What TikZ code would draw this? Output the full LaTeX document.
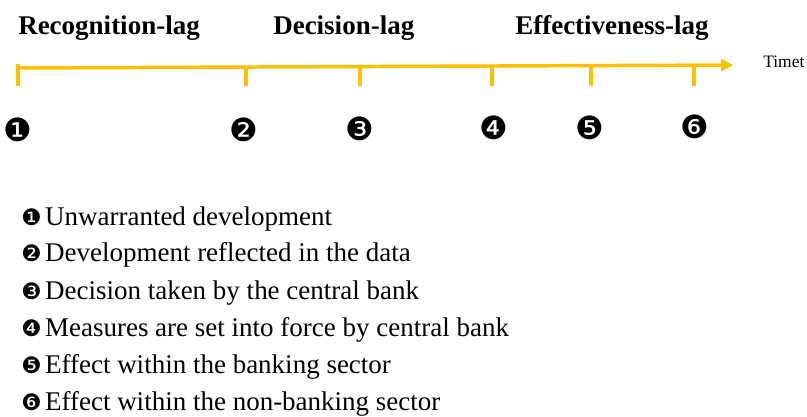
\documentclass[tikz,border=0pt]{standalone}
\usepackage{fontspec}
\setmainfont{Liberation Serif}
\newfontfamily\dingfont{DejaVu Sans}
\usetikzlibrary{arrows.meta}

\definecolor{lagyellow}{HTML}{FFC000}
\newcommand{\lagnum}[1]{{\fontsize{17pt}{17pt}\dingfont #1}\hspace{2.6pt}}

\tikzset{
  axisline/.style={draw=lagyellow, line width=2.6pt},
  lagtitle/.style={anchor=base west, inner sep=0pt, font=\fontsize{20.25pt}{24pt}\bfseries},
  stepnum/.style={inner sep=0pt, font=\fontsize{24pt}{24pt}\dingfont},
  legend/.style={anchor=base west, inner sep=0pt, font=\fontsize{20.25pt}{24pt}\selectfont},
}

\begin{document}
\begin{tikzpicture}[x=0.75pt, y=-0.75pt]
  \useasboundingbox (0,0) rectangle (807,417);

  % the three lags
  \node[lagtitle] (recog) at (18,35) {Recognition-lag};
  \node[lagtitle] (decis) at (273,35) {Decision-lag};
  \node[lagtitle] (effect) at (515,35) {Effectiveness-lag};

  % time axis
  \coordinate (t1) at (18,68);
  \coordinate (t2) at (246,67);
  \coordinate (t3) at (360,66.6);
  \coordinate (t4) at (492,66);
  \coordinate (t5) at (591,65.6);
  \coordinate (t6) at (694,65.2);
  \coordinate (tend) at (733,65);
  \coordinate (foot) at (0,86);
  \coordinate (head) at (0,64);

  \draw[axisline, -{Triangle[length=9pt, width=9pt]}] (t1) -- (tend);
  \node[anchor=base west, inner sep=0pt, font=\fontsize{13.1pt}{14pt}\selectfont] (timet) at (763,68) {Timet};

  \draw[axisline] (t1 |- head) -- (t1 |- foot);
  \draw[axisline] (t2) -- (t2 |- foot); \draw[axisline] (t3) -- (t3 |- foot);
  \draw[axisline] (t4) -- (t4 |- foot); \draw[axisline] (t5) -- (t5 |- foot);
  \draw[axisline] (t6) -- (t6 |- foot);

  % points in time
  \node[stepnum] (n1) at (18,130) {❶};
  \node[stepnum] (n2) at (244,129.5) {❷};
  \node[stepnum] (n3) at (360,129) {❸};
  \node[stepnum] (n4) at (494,128) {❹};
  \node[stepnum] (n5) at (590,128) {❺};
  \node[stepnum] (n6) at (695,127) {❻};

  % key
  \node[legend] (k1) at (21,225) {\lagnum{❶}Unwarranted development};
  \node[legend] (k2) at (21,262) {\lagnum{❷}Development reflected in the data};
  \node[legend] (k3) at (21,299) {\lagnum{❸}Decision taken by the central bank};
  \node[legend] (k4) at (21,336) {\lagnum{❹}Measures are set into force by central bank};
  \node[legend] (k5) at (21,373) {\lagnum{❺}Effect within the banking sector};
  \node[legend] (k6) at (21,410) {\lagnum{❻}Effect within the non-banking sector};
\end{tikzpicture}
\end{document}
